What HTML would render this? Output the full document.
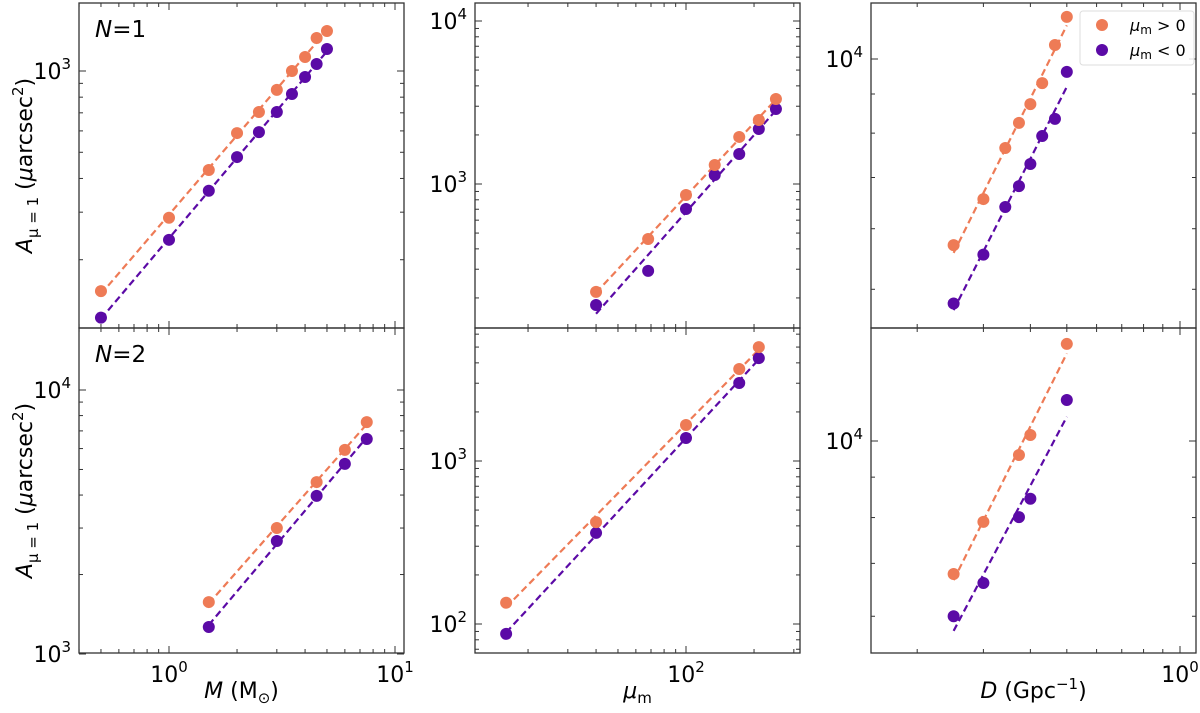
<!DOCTYPE html>
<html><head><meta charset="utf-8"><style>
html,body{margin:0;padding:0;background:#fff;}
svg{display:block;font-family:"DejaVu Sans","Liberation Sans",sans-serif;}
</style></head><body>
<svg id="fig" width="1200" height="713" viewBox="0 0 1200 713" xmlns="http://www.w3.org/2000/svg"></svg>
<script>
// ---- data ----
const massValsN1 = [0.5,1,1.5,2,2.5,3,3.5,4,4.5,5];
const areaPosN1M = [153,286,430,589,705,851,1000,1127,1325,1406];
const areaNegN1M = [122,237,360,480,594,705,822,950,1062,1206];
const muValsN1 = [40,68,100,134,172,210,250];
const areaPosN1Mu = [218,460,856,1307,1944,2470,3323];
const areaNegN1Mu = [181,293,703,1135,1527,2175,2886];
const dValsN1 = [0.25,0.3,0.343,0.373,0.4,0.43,0.465,0.5];
const areaPosN1D = [5710,6560,7650,8250,8730,9300,10430,11350];
const areaNegN1D = [4790,5550,6405,6820,7290,7930,8350,9620];
const massValsN2 = [1.5,3,4.5,6,7.5];
const areaPosN2M = [1573,3000,4480,5930,7560];
const areaNegN2M = [1266,2680,3970,5250,6520];
const muValsN2 = [16,40,100,172,210];
const areaPosN2Mu = [135,422,1663,3670,5000];
const areaNegN2Mu = [87,362,1384,3010,4280];
const dValsN2 = [0.25,0.3,0.373,0.4,0.5];
const areaPosN2D = [6787,7900,9600,10175,13270];
const areaNegN2D = [6000,6610,8010,8450,11270];
const legendLabels = ["μm > 0","μm < 0"];

const ORANGE="#ee7b56", PURPLE="#5b0aa6";
const NS="http://www.w3.org/2000/svg";
const svg=document.getElementById('fig');
function el(tag,attrs,parent){const e=document.createElementNS(NS,tag);for(const k in attrs)e.setAttribute(k,attrs[k]);(parent||svg).appendChild(e);return e;}

function logAxis(refVal,refPx,dec,sign){return v=>refPx+sign*dec*Math.log10(v/refVal);}

const panels=[
 {name:'n1-mass',x0:79,y0:3,xs:logAxis(1,169,226,1),ys:logAxis(1000,71,270,-1),xd:massValsN1,pos:areaPosN1M,neg:areaNegN1M,xlab:false,ylab:true,tag:'N=1'},
 {name:'n1-mu',x0:475,y0:3,xs:logAxis(100,686,226,1),ys:logAxis(1000,184,163,-1),xd:muValsN1,pos:areaPosN1Mu,neg:areaNegN1Mu,xlab:false},
 {name:'n1-d',x0:871,y0:3,xs:logAxis(1,1180,376,1),ys:logAxis(10000,59,765,-1),xd:dValsN1,pos:areaPosN1D,neg:areaNegN1D,xlab:false,legend:true},
 {name:'n2-mass',x0:79,y0:328,xs:logAxis(1,169,226,1),ys:logAxis(1000,654,264,-1),xd:massValsN2,pos:areaPosN2M,neg:areaNegN2M,xlab:true,ylab:true,tag:'N=2',xtitle:'mass'},
 {name:'n2-mu',x0:475,y0:328,xs:logAxis(100,686,226,1),ys:logAxis(100,624,163,-1),xd:muValsN2,pos:areaPosN2Mu,neg:areaNegN2Mu,xlab:true,xtitle:'mu'},
 {name:'n2-d',x0:871,y0:328,xs:logAxis(1,1180,376,1),ys:logAxis(10000,441,790,-1),xd:dValsN2,pos:areaPosN2D,neg:areaNegN2D,xlab:true,xtitle:'d'}
];
const W=325,H=325;

function inv(f,px){const a=f(1),b=f(10);return Math.pow(10,(px-a)/(b-a));}
function ticksIn(f,lo,hi){const vmin=Math.min(inv(f,lo),inv(f,hi))*0.99,vmax=Math.max(inv(f,lo),inv(f,hi))*1.01;const out=[];for(let e=Math.floor(Math.log10(vmin))-1;e<=Math.ceil(Math.log10(vmax));e++){for(let m=1;m<10;m++){const v=m*Math.pow(10,e);if(v>=vmin&&v<=vmax)out.push({v,major:m===1,e});}}return out;}
function fit(xs,ys){const lx=xs.map(Math.log10),ly=ys.map(Math.log10),n=lx.length;const mx=lx.reduce((a,b)=>a+b)/n,my=ly.reduce((a,b)=>a+b)/n;let sxy=0,sxx=0;for(let i=0;i<n;i++){sxy+=(lx[i]-mx)*(ly[i]-my);sxx+=(lx[i]-mx)**2;}const s=sxy/sxx;return x=>Math.pow(10,my+s*(Math.log10(x)-mx));}
function powLabel(g,x,y,e,anchor,name){const t=el('text',{x:x,y:y,'font-size':22,'text-anchor':anchor,fill:'#000'},g);t.appendChild(document.createTextNode('10'));const s=el('tspan',{dy:-10,'font-size':15},t);s.textContent=String(e);}

panels.forEach(p=>{
 const g=el('g',{});
 
 
 const x1=p.x0+W,y1=p.y0+H;
 ticksIn(p.xs,p.x0,x1).forEach(t=>{const x=p.xs(t.v);const L=t.major?7:4;
  el('line',{x1:x,y1:y1,x2:x,y2:y1-L,stroke:'#333','stroke-width':1},g);
  el('line',{x1:x,y1:p.y0,x2:x,y2:p.y0+L,stroke:'#333','stroke-width':1},g);
  if(t.major&&p.xlab){powLabel(g,x,y1+29,t.e,'middle','x-tick-label');}
 });
 ticksIn(p.ys,p.y0,y1).forEach(t=>{const y=p.ys(t.v);const L=t.major?7:4;
  el('line',{x1:p.x0,y1:y,x2:p.x0+L,y2:y,stroke:'#333','stroke-width':1},g);
  el('line',{x1:x1,y1:y,x2:x1-L,y2:y,stroke:'#333','stroke-width':1},g);
  if(t.major){powLabel(g,p.x0-8,y+8,t.e,'end','y-tick-label');}
 });
 [[p.neg,PURPLE,'negative'],[p.pos,ORANGE,'positive']].forEach(([ys,c,nm])=>{
  const f=fit(p.xd,ys);const xa=Math.min(...p.xd),xb=Math.max(...p.xd);
  const ln=el('line',{x1:p.xs(xa),y1:p.ys(f(xa)),x2:p.xs(xb),y2:p.ys(f(xb)),stroke:c,'stroke-width':2.2,'stroke-dasharray':'7,4'},g);
  
  
 });
 [[p.neg,PURPLE,'negative'],[p.pos,ORANGE,'positive']].forEach(([ys,c,nm])=>{
  ys.forEach((v,i)=>{const ci=el('circle',{cx:p.xs(p.xd[i]),cy:p.ys(v),r:6,fill:c},g);
   
   });
 });
 const fr=el('rect',{x:p.x0,y:p.y0,width:W,height:H,fill:'none',stroke:'#333','stroke-width':1.3},g);
 
 
 if(p.tag){const t=el('text',{x:p.x0+16,y:p.y0+34,'font-size':23,fill:'#000'},g);
  
  
  const a=el('tspan',{'font-style':'italic'},t);a.textContent='N';const b=el('tspan',{},t);b.textContent=p.tag.slice(1);}
 if(p.ylab){const cy=p.y0+H/2;const t=el('text',{x:0,y:0,'font-size':22,'text-anchor':'middle',transform:`translate(32,${cy}) rotate(-90)`,fill:'#000'},g);
  
  
  const a=el('tspan',{'font-style':'italic'},t);a.textContent='A';
  const b=el('tspan',{'font-size':15,dy:6},t);b.textContent='μ = 1';
  const c=el('tspan',{dy:-6},t);c.textContent=' (';
  const d=el('tspan',{'font-style':'italic'},t);d.textContent='μ';
  const e=el('tspan',{},t);e.textContent='arcsec';
  const f2=el('tspan',{'font-size':15,dy:-9},t);f2.textContent='2';
  const h=el('tspan',{dy:9},t);h.textContent=')';}
 if(p.xtitle){const t=el('text',{x:p.x0+W/2,y:698,'font-size':22,'text-anchor':'middle',fill:'#000'},g);
  
  
  if(p.xtitle==='mass'){const a=el('tspan',{'font-style':'italic'},t);a.textContent='M';const b=el('tspan',{},t);b.textContent=' (M';const c=el('tspan',{'font-size':15,dy:5},t);c.textContent='⊙';const d=el('tspan',{dy:-5},t);d.textContent=')';}
  else if(p.xtitle==='mu'){const a=el('tspan',{'font-style':'italic'},t);a.textContent='μ';const b=el('tspan',{'font-size':15,dy:5},t);b.textContent='m';}
  else {const a=el('tspan',{'font-style':'italic'},t);a.textContent='D';const b=el('tspan',{},t);b.textContent=' (Gpc';const c=el('tspan',{'font-size':15,dy:-9},t);c.textContent='−1';const d=el('tspan',{dy:9},t);d.textContent=')';}
 }
 if(p.legend){const lg=el('g',{},g);
  
  
  el('rect',{x:1080,y:11,width:114,height:54,rx:3,fill:'#fff','fill-opacity':0.85,stroke:'#ddd','stroke-width':1},lg);
  [ORANGE,PURPLE].forEach((c,i)=>{const e=el('g',{},lg);
   
   
   el('circle',{cx:1102,cy:25+i*25,r:6,fill:c},e);
   const t=el('text',{x:1130,y:31+i*25,'font-size':16,fill:'#000'},e);
   const a=el('tspan',{'font-style':'italic'},t);a.textContent=legendLabels[i].charAt(0);
   const b=el('tspan',{'font-size':12,dy:3},t);b.textContent='m';
   const d=el('tspan',{dy:-3},t);d.textContent=legendLabels[i].slice(2);});
 }
});
</script>
</body></html>
